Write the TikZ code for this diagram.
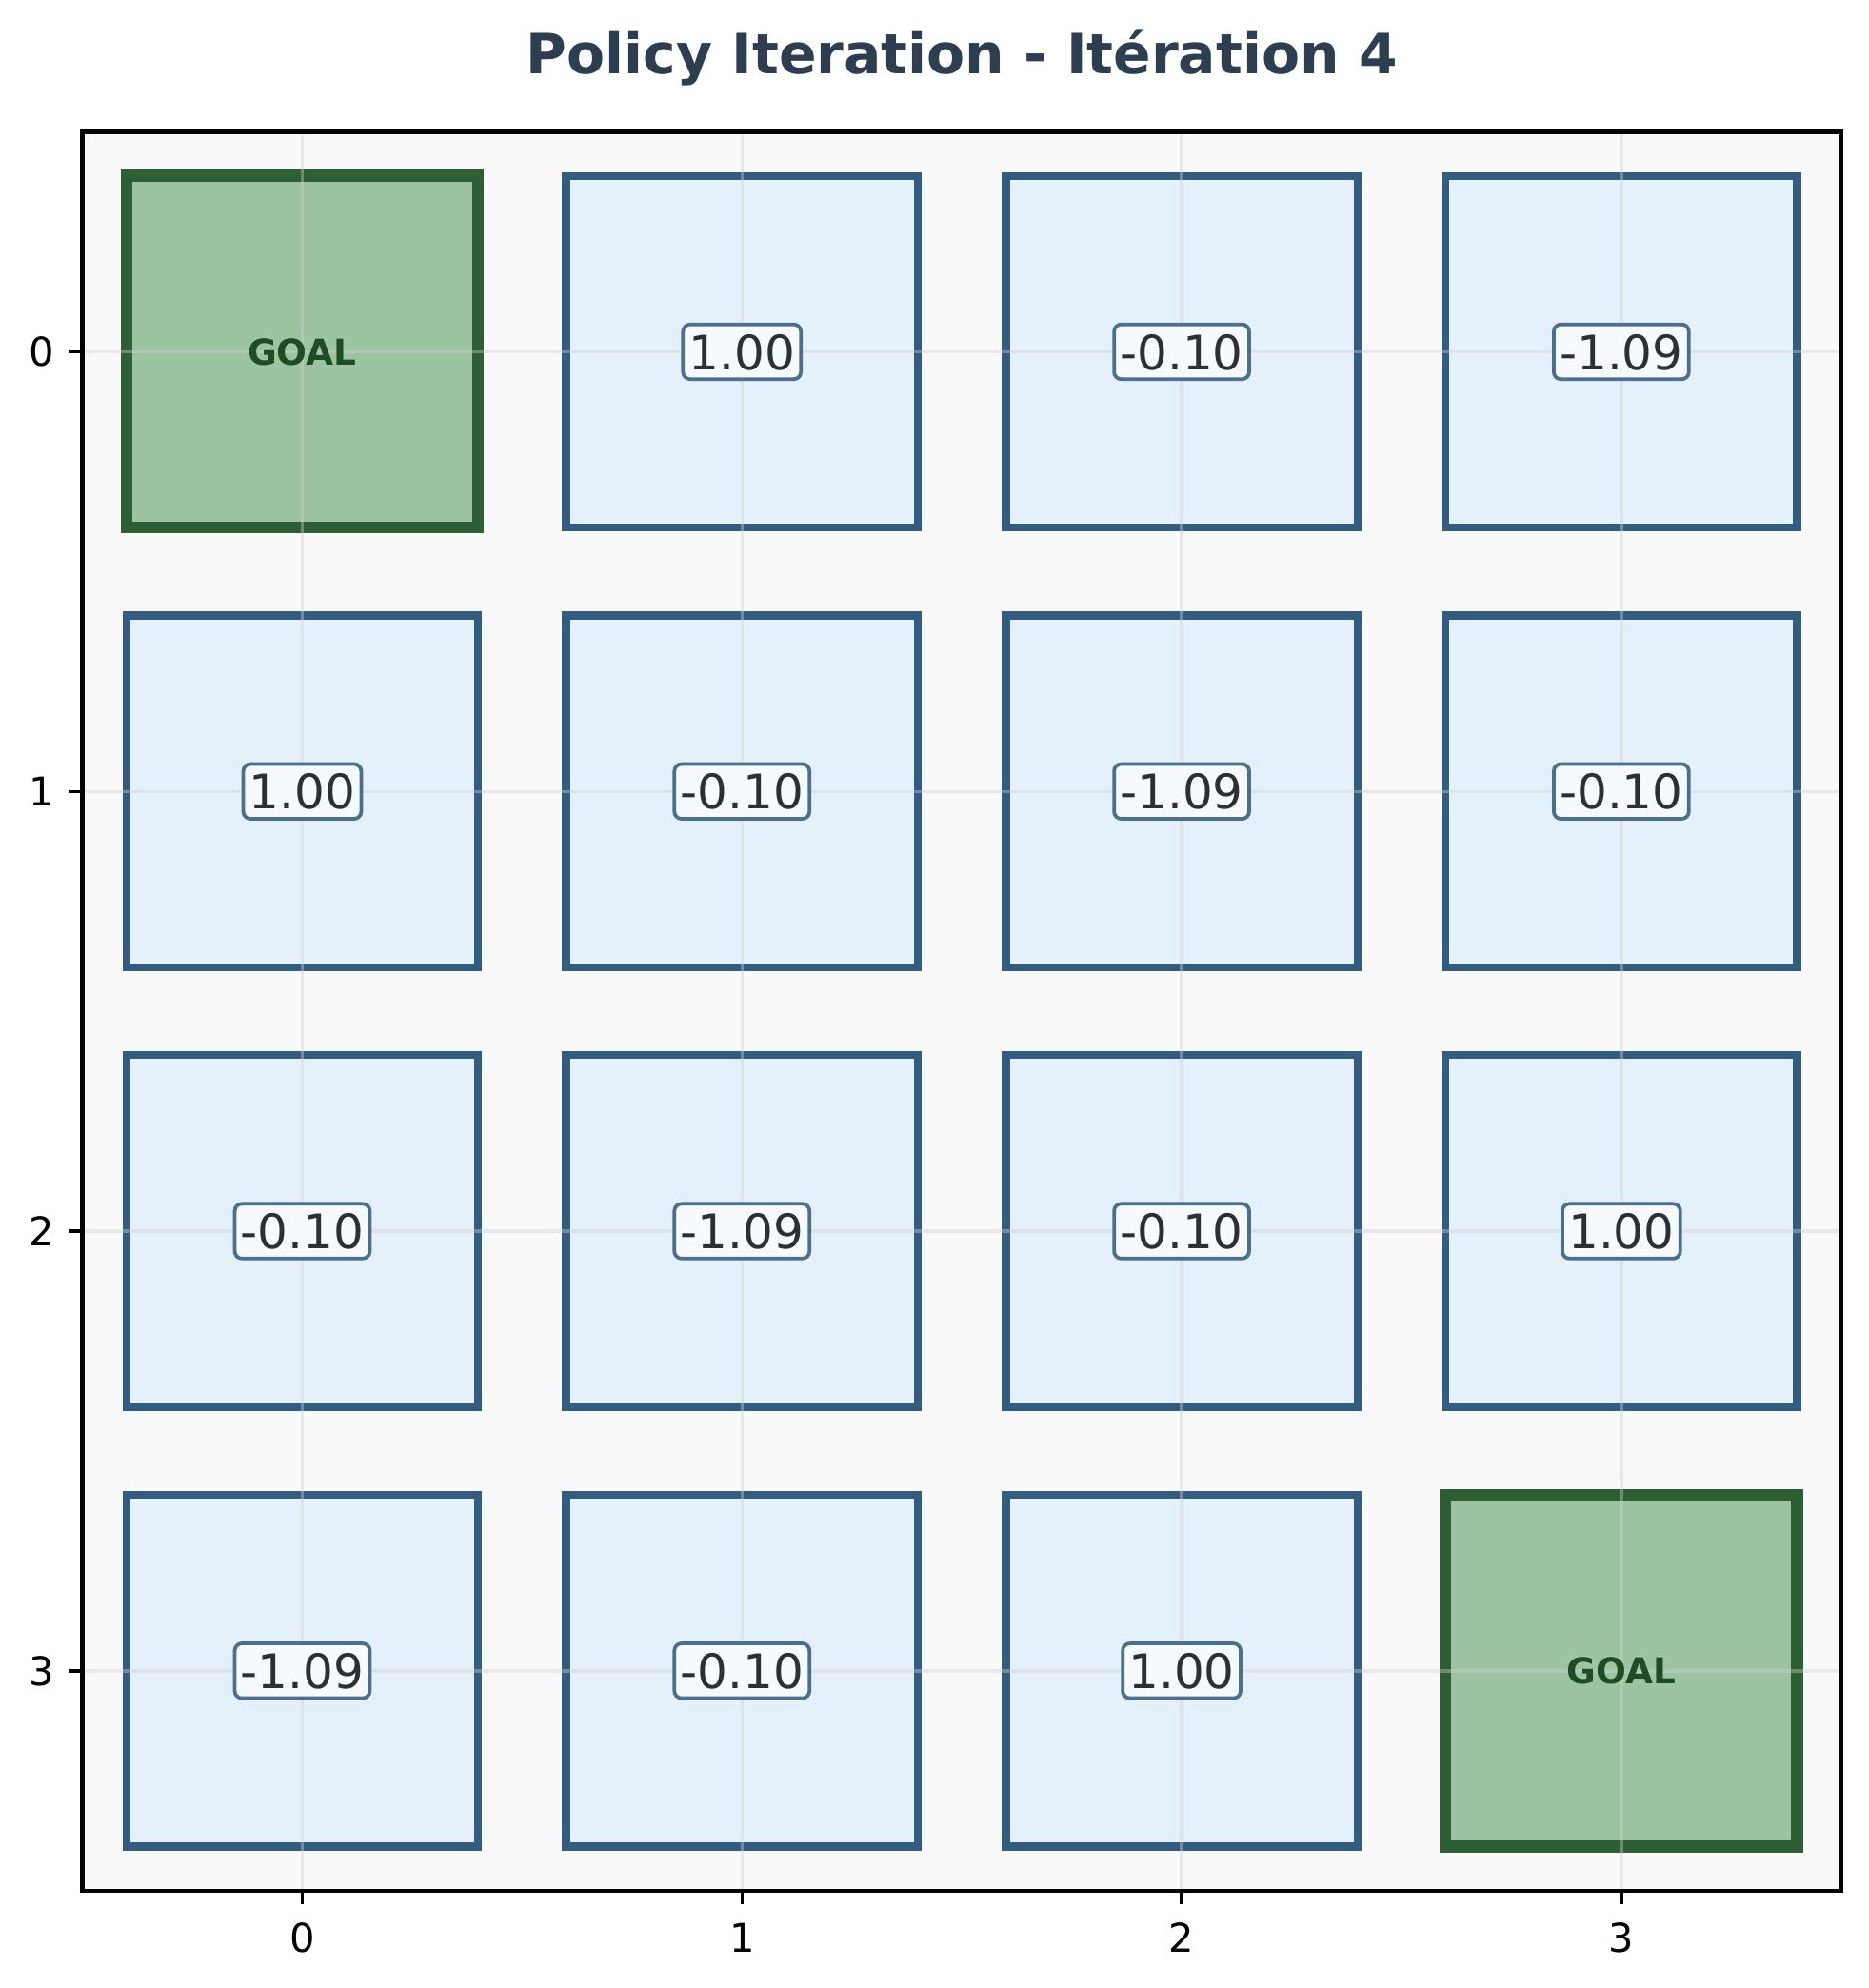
\documentclass[tikz,border=0pt]{standalone}
\usepackage{fontspec}
\setmainfont{DejaVu Sans}
\definecolor{axbg}{HTML}{F9F9F9}
\definecolor{cellfill}{HTML}{E4F0FA}
\definecolor{celldraw}{HTML}{325D80}
\definecolor{goalfill}{HTML}{9DC4A0}
\definecolor{goaldraw}{HTML}{2D5E34}
\definecolor{goaltext}{HTML}{1E4D24}
\definecolor{valtext}{HTML}{2B3035}
\definecolor{valdraw}{HTML}{4A6F8F}
\definecolor{valfill}{HTML}{F6FAFD}
\definecolor{titlecol}{HTML}{2C3E50}
\definecolor{gridcol}{HTML}{D0D0D0}
\tikzset{
  cellbox/.style={rectangle, minimum width=88.66pt, minimum height=88.66pt, inner sep=0pt, outer sep=0pt, fill=cellfill, draw=celldraw, line width=2pt},
  goalbox/.style={rectangle, minimum width=88.66pt, minimum height=88.66pt, inner sep=0pt, outer sep=0pt, fill=goalfill, draw=goaldraw, line width=3pt},
  goallab/.style={font=\fontsize{9}{10}\selectfont\bfseries, text=goaltext, inner sep=0pt},
  vallab/.style={font=\fontsize{12}{14}\selectfont, text=valtext, fill=valfill, draw=valdraw, line width=0.9pt, rounded corners=1.8pt, inner xsep=1.5pt, inner ysep=2.4pt, text height=9pt, text depth=0pt},
  titlelab/.style={font=\fontsize{14}{16}\selectfont\bfseries, text=titlecol, inner sep=0pt},
  ticklab/.style={font=\fontsize{10}{12}\selectfont, text=black, inner sep=0pt},
  gridline/.style={draw=gridcol, line width=0.8pt, opacity=0.4},
  tickmark/.style={draw=black, line width=0.8pt},
}
\begin{document}
\begin{tikzpicture}[x=110.83pt, y=-110.83pt]
\useasboundingbox (-0.6875,-0.8) rectangle (3.5632,3.7215);
\fill[white] (-0.6875,-0.8) rectangle (3.5632,3.7215);
\node[titlelab, anchor=base] (title) at (1.5,-0.633) {Policy Iteration - Itération 4};
\fill[axbg] (-0.5,-0.5) rectangle (3.5,3.5);
% cells
\foreach \r/\c in {0/1,0/2,0/3,1/0,1/1,1/2,1/3,2/0,2/1,2/2,2/3,3/0,3/1,3/2}
  \node[cellbox] (cell\r\c) at (\c,\r) {};
\node[goalbox] (cell00) at (0,0) {};
\node[goalbox] (cell33) at (3,3) {};
% grid
\foreach \i in {0,1,2,3} {
  \draw[gridline] (\i,-0.5) -- (\i,3.5);
  \draw[gridline] (-0.5,\i) -- (3.5,\i);
}
% labels
\node[goallab] (goal00) at (cell00) {GOAL};
\node[goallab] (goal33) at (cell33) {GOAL};
\foreach \r/\c/\v in {0/1/1.00,0/2/-0.10,0/3/-1.09,
                      1/0/1.00,1/1/-0.10,1/2/-1.09,1/3/-0.10,
                      2/0/-0.10,2/1/-1.09,2/2/-0.10,2/3/1.00,
                      3/0/-1.09,3/1/-0.10,3/2/1.00}
  \node[vallab] (val\r\c) at (cell\r\c) {\v};
% spines
\draw[black, line width=1pt] (-0.5,-0.5) rectangle (3.5,3.5);
% ticks
\foreach \i in {0,1,2,3} {
  \coordinate (xt\i) at (\i,3.5);
  \coordinate (yt\i) at (-0.5,\i);
  \draw[tickmark] (xt\i) -- ++(0,-3.5pt);
  \draw[tickmark] (yt\i) -- ++(-3.5pt,0);
  \node[ticklab, anchor=north] (xl\i) at ([yshift=-8pt]xt\i) {\i};
  \node[ticklab, anchor=east] (yl\i) at ([xshift=-7pt]yt\i) {\i};
}
\end{tikzpicture}
\end{document}
